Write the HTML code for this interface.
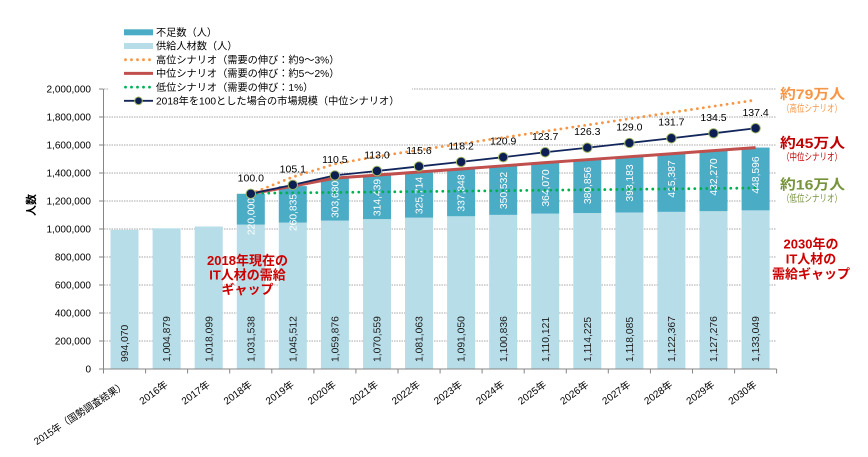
<!DOCTYPE html>
<html><head><meta charset="utf-8"><style>
html,body{margin:0;padding:0;background:#fff;}
svg{display:block;font-family:"Liberation Sans","Noto Sans CJK JP",sans-serif;}
</style></head><body>
<svg width="868" height="457" viewBox="0 0 868 457" xmlns="http://www.w3.org/2000/svg">
<rect width="868" height="457" fill="#fff"/>
<!-- gridlines -->
<g stroke="#a8a8a8" stroke-width="1" stroke-dasharray="1.5 1">
<line x1="104" y1="341" x2="776.5" y2="341"/>
<line x1="104" y1="313" x2="776.5" y2="313"/>
<line x1="104" y1="285" x2="776.5" y2="285"/>
<line x1="104" y1="257" x2="776.5" y2="257"/>
<line x1="104" y1="229" x2="776.5" y2="229"/>
<line x1="104" y1="201" x2="776.5" y2="201"/>
<line x1="104" y1="173" x2="776.5" y2="173"/>
<line x1="104" y1="145" x2="776.5" y2="145"/>
<line x1="104" y1="117" x2="776.5" y2="117"/>
<line x1="104" y1="89" x2="776.5" y2="89"/>
</g>
<!-- y ticks -->
<g stroke="#868686" stroke-width="1">
<line x1="99" y1="369" x2="103.5" y2="369"/>
<line x1="99" y1="341" x2="103.5" y2="341"/>
<line x1="99" y1="313" x2="103.5" y2="313"/>
<line x1="99" y1="285" x2="103.5" y2="285"/>
<line x1="99" y1="257" x2="103.5" y2="257"/>
<line x1="99" y1="229" x2="103.5" y2="229"/>
<line x1="99" y1="201" x2="103.5" y2="201"/>
<line x1="99" y1="173" x2="103.5" y2="173"/>
<line x1="99" y1="145" x2="103.5" y2="145"/>
<line x1="99" y1="117" x2="103.5" y2="117"/>
<line x1="99" y1="89" x2="103.5" y2="89"/>
</g>
<!-- supply bars -->
<g fill="#b7dde8">
<rect x="110.5" y="229.83" width="28" height="139.17"/>
<rect x="152.6" y="228.32" width="28" height="140.68"/>
<rect x="194.7" y="226.47" width="28" height="142.53"/>
<rect x="236.8" y="224.58" width="28" height="144.42"/>
<rect x="278.8" y="222.63" width="28" height="146.37"/>
<rect x="320.9" y="220.62" width="28" height="148.38"/>
<rect x="363.0" y="219.12" width="28" height="149.88"/>
<rect x="405.0" y="217.65" width="28" height="151.35"/>
<rect x="447.1" y="216.25" width="28" height="152.75"/>
<rect x="489.2" y="214.88" width="28" height="154.12"/>
<rect x="531.2" y="213.58" width="28" height="155.42"/>
<rect x="573.3" y="213.01" width="28" height="155.99"/>
<rect x="615.4" y="212.47" width="28" height="156.53"/>
<rect x="657.4" y="211.87" width="28" height="157.13"/>
<rect x="699.5" y="211.18" width="28" height="157.82"/>
<rect x="741.6" y="210.37" width="28" height="158.63"/>
</g>
<!-- shortage bars -->
<g fill="#4bacc6">
<rect x="236.8" y="193.78" width="28" height="30.8"/>
<rect x="278.8" y="186.11" width="28" height="36.52"/>
<rect x="320.9" y="178.10" width="28" height="42.52"/>
<rect x="363.0" y="175.10" width="28" height="44.02"/>
<rect x="405.0" y="172.05" width="28" height="45.60"/>
<rect x="447.1" y="168.95" width="28" height="47.30"/>
<rect x="489.2" y="165.81" width="28" height="49.07"/>
<rect x="531.2" y="162.61" width="28" height="50.97"/>
<rect x="573.3" y="159.69" width="28" height="53.32"/>
<rect x="615.4" y="156.72" width="28" height="55.75"/>
<rect x="657.4" y="153.72" width="28" height="58.15"/>
<rect x="699.5" y="150.66" width="28" height="60.52"/>
<rect x="741.6" y="147.57" width="28" height="62.80"/>
</g>
<!-- axes -->
<line x1="103.5" y1="89" x2="103.5" y2="369" stroke="#868686" stroke-width="1"/>
<line x1="103.5" y1="369" x2="776.7" y2="369" stroke="#868686" stroke-width="1"/>
<g stroke="#868686" stroke-width="1">
<line x1="103.5" y1="369" x2="103.5" y2="373.5"/>
<line x1="145.6" y1="369" x2="145.6" y2="373.5"/>
<line x1="187.6" y1="369" x2="187.6" y2="373.5"/>
<line x1="229.7" y1="369" x2="229.7" y2="373.5"/>
<line x1="271.8" y1="369" x2="271.8" y2="373.5"/>
<line x1="313.9" y1="369" x2="313.9" y2="373.5"/>
<line x1="355.9" y1="369" x2="355.9" y2="373.5"/>
<line x1="398.0" y1="369" x2="398.0" y2="373.5"/>
<line x1="440.1" y1="369" x2="440.1" y2="373.5"/>
<line x1="482.1" y1="369" x2="482.1" y2="373.5"/>
<line x1="524.2" y1="369" x2="524.2" y2="373.5"/>
<line x1="566.3" y1="369" x2="566.3" y2="373.5"/>
<line x1="608.3" y1="369" x2="608.3" y2="373.5"/>
<line x1="650.4" y1="369" x2="650.4" y2="373.5"/>
<line x1="692.5" y1="369" x2="692.5" y2="373.5"/>
<line x1="734.6" y1="369" x2="734.6" y2="373.5"/>
<line x1="776.6" y1="369" x2="776.6" y2="373.5"/>
</g>
<!-- y labels -->
<g font-size="10" text-anchor="end" fill="#000">
<text x="91" y="372.5">0</text>
<text x="91" y="344.5">200,000</text>
<text x="91" y="316.5">400,000</text>
<text x="91" y="288.5">600,000</text>
<text x="91" y="260.5">800,000</text>
<text x="91" y="232.5">1,000,000</text>
<text x="91" y="204.5">1,200,000</text>
<text x="91" y="176.5">1,400,000</text>
<text x="91" y="148.5">1,600,000</text>
<text x="91" y="120.5">1,800,000</text>
<text x="91" y="92.5">2,000,000</text>
</g>
<text transform="translate(35,205) rotate(-90)" font-size="11" font-weight="bold" text-anchor="middle">人数</text>
<!-- x labels -->
<g font-size="10" text-anchor="end" fill="#000">
<text transform="translate(126.5,387) rotate(-33)" textLength="107" lengthAdjust="spacingAndGlyphs">2015年（国勢調査結果）</text>
<text transform="translate(168.6,386) rotate(-36)">2016年</text>
<text transform="translate(210.7,386) rotate(-36)">2017年</text>
<text transform="translate(252.8,386) rotate(-36)">2018年</text>
<text transform="translate(294.8,386) rotate(-36)">2019年</text>
<text transform="translate(336.9,386) rotate(-36)">2020年</text>
<text transform="translate(379.0,386) rotate(-36)">2021年</text>
<text transform="translate(421.0,386) rotate(-36)">2022年</text>
<text transform="translate(463.1,386) rotate(-36)">2023年</text>
<text transform="translate(505.2,386) rotate(-36)">2024年</text>
<text transform="translate(547.2,386) rotate(-36)">2025年</text>
<text transform="translate(589.3,386) rotate(-36)">2026年</text>
<text transform="translate(631.4,386) rotate(-36)">2027年</text>
<text transform="translate(673.4,386) rotate(-36)">2028年</text>
<text transform="translate(715.5,386) rotate(-36)">2029年</text>
<text transform="translate(757.6,386) rotate(-36)">2030年</text>
</g>
<!-- supply labels -->
<g font-size="10.3" fill="#1a1a1a">
<text transform="translate(128.1,362) rotate(-90)">994,070</text>
<text transform="translate(170.2,362) rotate(-90)">1,004,879</text>
<text transform="translate(212.3,362) rotate(-90)">1,018,099</text>
<text transform="translate(254.4,362) rotate(-90)">1,031,538</text>
<text transform="translate(296.4,362) rotate(-90)">1,045,512</text>
<text transform="translate(338.5,362) rotate(-90)">1,059,876</text>
<text transform="translate(380.6,362) rotate(-90)">1,070,559</text>
<text transform="translate(422.6,362) rotate(-90)">1,081,063</text>
<text transform="translate(464.7,362) rotate(-90)">1,091,050</text>
<text transform="translate(506.8,362) rotate(-90)">1,100,836</text>
<text transform="translate(548.8,362) rotate(-90)">1,110,121</text>
<text transform="translate(590.9,362) rotate(-90)">1,114,225</text>
<text transform="translate(633.0,362) rotate(-90)">1,118,085</text>
<text transform="translate(675.0,362) rotate(-90)">1,122,367</text>
<text transform="translate(717.1,362) rotate(-90)">1,127,276</text>
<text transform="translate(759.2,362) rotate(-90)">1,133,049</text>
</g>
<!-- shortage labels -->
<g font-size="10.3" fill="#fff" text-anchor="middle">
<text transform="translate(254.4,216.5) rotate(-90)">220,000</text>
<text transform="translate(296.4,212.5) rotate(-90)">260,835</text>
<text transform="translate(338.5,199.4) rotate(-90)">303,680</text>
<text transform="translate(380.6,197.5) rotate(-90)">314,439</text>
<text transform="translate(422.6,195.5) rotate(-90)">325,714</text>
<text transform="translate(464.7,193) rotate(-90)">337,848</text>
<text transform="translate(506.8,190.5) rotate(-90)">350,532</text>
<text transform="translate(548.8,188) rotate(-90)">364,070</text>
<text transform="translate(590.9,185.5) rotate(-90)">380,856</text>
<text transform="translate(633.0,183) rotate(-90)">398,183</text>
<text transform="translate(675.0,179) rotate(-90)">415,387</text>
<text transform="translate(717.1,177) rotate(-90)">432,270</text>
<text transform="translate(759.2,175) rotate(-90)">448,596</text>
</g>
<!-- red mid scenario -->
<polyline fill="none" stroke="#c0504d" stroke-width="3" stroke-linejoin="round" points="250.8,193.78 292.8,186.11 334.9,178.10 377.0,175.10 419.0,172.05 461.1,168.95 503.2,165.81 545.2,162.61 587.3,159.69 629.4,156.72 671.4,153.72 713.5,150.66 755.6,147.57"/>
<!-- orange high scenario -->
<polyline fill="none" stroke="#f79646" stroke-width="2.8" stroke-linecap="round" stroke-dasharray="0 6" points="250.8,193.78 292.8,177 334.9,164 377.0,156.5 419.0,150 461.1,143.75 503.2,137.5 545.2,131.25 587.3,125 629.4,118.75 671.4,112.5 713.5,106.25 755.6,100"/>
<!-- green low scenario -->
<line x1="250.8" y1="193.3" x2="755.6" y2="188" stroke="#00b050" stroke-width="2.8" stroke-linecap="round" stroke-dasharray="0 6"/>
<!-- navy index line -->
<polyline fill="none" stroke="#13265c" stroke-width="1.8" points="250.8,193.78 292.8,184.85 334.9,175.39 377.0,171.01 419.0,166.45 461.1,161.90 503.2,157.17 545.2,152.26 587.3,147.71 629.4,142.97 671.4,138.24 713.5,133.33 755.6,128.25"/>
<g fill="#0d1f52" stroke="#a3b865" stroke-width="1">
<circle cx="250.8" cy="193.78" r="4.7"/>
<circle cx="292.8" cy="184.85" r="4.7"/>
<circle cx="334.9" cy="175.39" r="4.7"/>
<circle cx="377.0" cy="171.01" r="4.7"/>
<circle cx="419.0" cy="166.45" r="4.7"/>
<circle cx="461.1" cy="161.90" r="4.7"/>
<circle cx="503.2" cy="157.17" r="4.7"/>
<circle cx="545.2" cy="152.26" r="4.7"/>
<circle cx="587.3" cy="147.71" r="4.7"/>
<circle cx="629.4" cy="142.97" r="4.7"/>
<circle cx="671.4" cy="138.24" r="4.7"/>
<circle cx="713.5" cy="133.33" r="4.7"/>
<circle cx="755.6" cy="128.25" r="4.7"/>
</g>
<g font-size="10.5" text-anchor="middle" fill="#000">
<text x="250.8" y="181.3">100.0</text>
<text x="292.8" y="172.3">105.1</text>
<text x="334.9" y="162.9">110.5</text>
<text x="377.0" y="158.5">113.0</text>
<text x="419.0" y="154">115.6</text>
<text x="461.1" y="149.4">118.2</text>
<text x="503.2" y="144.7">120.9</text>
<text x="545.2" y="139.8">123.7</text>
<text x="587.3" y="135.2">126.3</text>
<text x="629.4" y="130.5">129.0</text>
<text x="671.4" y="125.7">131.7</text>
<text x="713.5" y="120.8">134.5</text>
<text x="755.6" y="116">137.4</text>
</g>
<!-- legend -->
<rect x="108" y="22" width="304" height="86" fill="#fff"/>
<rect x="124" y="29.3" width="29" height="6" fill="#4bacc6"/>
<rect x="124" y="43" width="29" height="6" fill="#b7dde8"/>
<line x1="125.5" y1="59.7" x2="152" y2="59.7" stroke="#f79646" stroke-width="2.8" stroke-linecap="round" stroke-dasharray="0 6"/>
<line x1="124" y1="73.4" x2="153" y2="73.4" stroke="#c0504d" stroke-width="3"/>
<line x1="125.5" y1="87.1" x2="152" y2="87.1" stroke="#00b050" stroke-width="2.8" stroke-linecap="round" stroke-dasharray="0 6"/>
<line x1="124" y1="100.8" x2="153" y2="100.8" stroke="#13265c" stroke-width="1.8"/>
<circle cx="138.5" cy="100.8" r="3.8" fill="#0d1f52" stroke="#a3b865" stroke-width="1"/>
<g font-size="10.2" fill="#000">
<text x="156" y="36">不足数（人）</text>
<text x="156" y="49.7">供給人材数（人）</text>
<text x="156" y="63.4">高位シナリオ（需要の伸び：約9～3%）</text>
<text x="156" y="77.1">中位シナリオ（需要の伸び：約5～2%）</text>
<text x="156" y="90.8">低位シナリオ（需要の伸び：1%）</text>
<text x="156" y="104.5">2018年を100とした場合の市場規模（中位シナリオ）</text>
</g>
<!-- right annotations -->
<g font-weight="bold">
<text x="780" y="99" font-size="14" fill="#f79646" textLength="65" lengthAdjust="spacingAndGlyphs">約79万人</text>
<text x="780" y="148" font-size="14" fill="#c00000" textLength="65" lengthAdjust="spacingAndGlyphs">約45万人</text>
<text x="780" y="189.5" font-size="14" fill="#77933c" textLength="65" lengthAdjust="spacingAndGlyphs">約16万人</text>
</g>
<text x="782" y="112" font-size="10" fill="#f79646" textLength="60" lengthAdjust="spacingAndGlyphs">（高位シナリオ）</text>
<text x="782" y="160.5" font-size="10" fill="#c00000" textLength="60" lengthAdjust="spacingAndGlyphs">（中位シナリオ）</text>
<text x="782" y="202" font-size="10" fill="#77933c" textLength="60" lengthAdjust="spacingAndGlyphs">（低位シナリオ）</text>
<g font-weight="bold" font-size="13" fill="#cc0000" text-anchor="middle">
<text x="811" y="248.5">2030年の</text>
<text x="811" y="263.5">IT人材の</text>
<text x="811" y="278.5">需給ギャップ</text>
<text x="247.5" y="265">2018年現在の</text>
<text x="247.5" y="279.5">IT人材の需給</text>
<text x="247.5" y="294">ギャップ</text>
</g>
</svg>
</body></html>
